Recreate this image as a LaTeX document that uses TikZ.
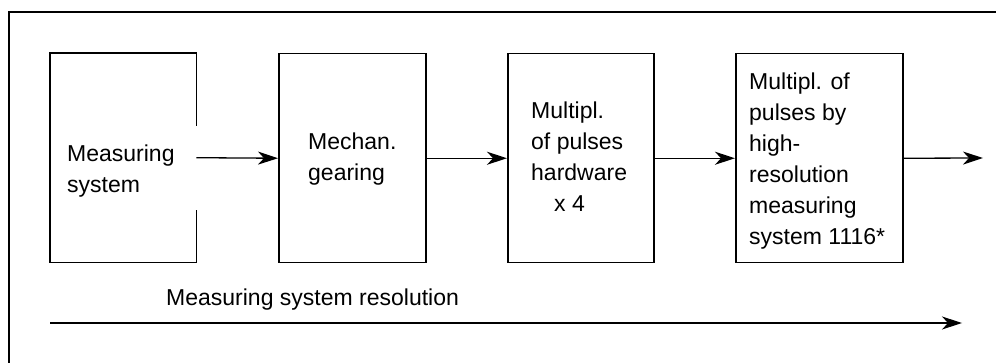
\documentclass[tikz,border=0pt]{standalone}
\usepackage{fontspec}
\setmainfont{Liberation Sans}
\usetikzlibrary{arrows.meta}
\newcommand{\lns}[1]{\begin{tabular}[t]{@{}l@{}}#1\end{tabular}}
\begin{document}
\begin{tikzpicture}[x=1pt,y=-1pt,
  box/.style={minimum width=#1, minimum height=209pt, inner sep=0pt, anchor=north west},
  boxdraw/.style={draw, line width=1.5pt},
  txt/.style={anchor=base west, inner sep=0pt, font=\fontsize{23}{31}\selectfont},
  flow/.style={line width=1.3pt, -{Stealth[length=20pt,width=13pt,inset=6pt]}},
  frame/.style={line width=1.5pt}]
\useasboundingbox (0,0) rectangle (996,363);
% outer frame (top and left edges)
\coordinate (fbl) at (9,363);
\coordinate (ftl) at (9,12);
\coordinate (ftr) at (996,12);
\draw[frame] (fbl) -- (ftl) -- (ftr);
% boxes
\node[box=146pt] (b1) at (50,53) {};
\node[box=147pt, boxdraw] (b2) at (278,53) {};
\node[box=146pt, boxdraw] (b3) at (507,53) {};
\node[box=167pt, boxdraw] (b4) at (735,53) {};
\draw[line width=1.5pt] ([yshift=-73pt]b1.north east) -- (b1.north east) -- (b1.north west)
  -- (b1.south west) -- (b1.south east) -- ([yshift=52pt]b1.south east);
% texts
\node[txt] (t1) at (67,162) {\lns{Measuring\\system}};
\node[txt] (t2) at (308,150) {\lns{Mechan.\\gearing}};
\node[txt] (t3) at (531,119) {\lns{Multipl.\\of pulses\\hardware\\\hspace*{23pt}x 4}};
\node[txt] (t4) at (749,90) {\lns{Multipl. of\\pulses by\\high-\\resolution\\measuring\\system 1116*}};
% connectors
\coordinate (out) at (983,158);
\draw[flow] (b1.east) -- (b2.west);
\draw[flow] (b2.east) -- (b3.west);
\draw[flow] (b3.east) -- (b4.west);
\draw[flow] (b4.east) -- (out);
% resolution arrow
\node[txt] (res) at (166,306) {Measuring system resolution};
\coordinate (ra) at (50,323);
\coordinate (rb) at (962,323);
\draw[flow] (ra) -- (rb);
\end{tikzpicture}
\end{document}
